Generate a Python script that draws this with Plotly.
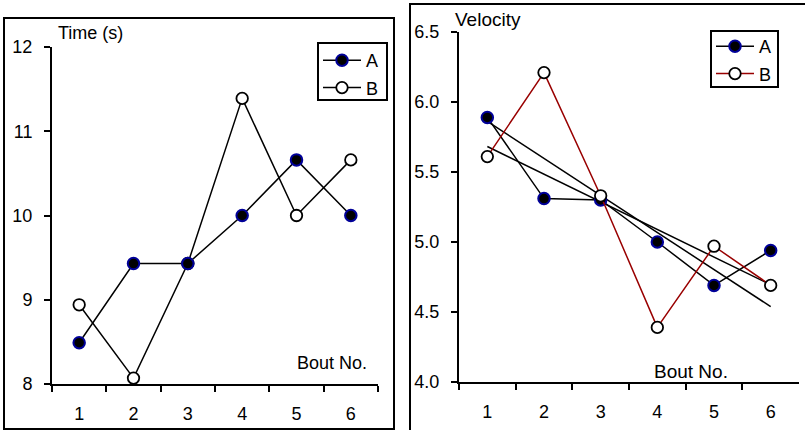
import numpy as np
import plotly.graph_objects as go

bouts = ["1", "2", "3", "4", "5", "6"]

time_A = [8.49, 9.43, 9.43, 10.0, 10.66, 10.0]
time_B = [8.94, 8.07, 9.43, 11.39, 10.0, 10.66]

vel_A = [5.89, 5.31, 5.30, 5.00, 4.69, 4.94]
vel_B = [5.61, 6.21, 5.33, 4.39, 4.97, 4.69]

time_ticks = [8, 9, 10, 11, 12]
vel_ticks = [4.0, 4.5, 5.0, 5.5, 6.0, 6.5]

W, H = 805, 430
FONT = "Liberation Sans, Arial, sans-serif"
NAVY = "#000099"
RED = "#990000"


def px(x):
    return x / W


def py(y):
    return 1 - y / H


def marker_A():
    return dict(symbol="circle", size=11.5, color="black", line=dict(color=NAVY, width=2))


def marker_B():
    return dict(symbol="circle", size=11.5, color="white", line=dict(color="black", width=1.8))


fig = go.Figure()

# ---- left panel (Time) : B drawn first so A sits on top
fig.add_trace(go.Scatter(x=bouts, y=time_B, name="B", mode="lines+markers",
                         line=dict(color="black", width=1.5), marker=marker_B(),
                         xaxis="x", yaxis="y", legend="legend", legendrank=2,
                         legendgroup="lb"))
fig.add_trace(go.Scatter(x=bouts, y=time_A, name="A", mode="lines+markers",
                         line=dict(color="black", width=1.5), marker=marker_A(),
                         xaxis="x", yaxis="y", legend="legend", legendrank=1,
                         legendgroup="la"))

# ---- right panel (Velocity)
xnum = np.arange(1, 7)
for vals in (vel_A, vel_B):
    k, b = np.polyfit(xnum, vals, 1)
    fig.add_trace(go.Scatter(x=[bouts[0], bouts[-1]], y=[k * 1 + b, k * 6 + b],
                             mode="lines", line=dict(color="black", width=1.5),
                             showlegend=False, hoverinfo="skip",
                             xaxis="x2", yaxis="y2"))
fig.add_trace(go.Scatter(x=bouts, y=vel_A, name="A", mode="lines+markers",
                         line=dict(color="black", width=1.5), marker=marker_A(),
                         xaxis="x2", yaxis="y2", legend="legend2", legendrank=1,
                         legendgroup="ra"))
fig.add_trace(go.Scatter(x=bouts, y=vel_B, name="B", mode="lines+markers",
                         line=dict(color=RED, width=1.5), marker=marker_B(),
                         xaxis="x2", yaxis="y2", legend="legend2", legendrank=2,
                         legendgroup="rb"))

common_x = dict(type="category", categoryorder="array", categoryarray=bouts,
                range=[-0.5, 5.5], showline=True, linecolor="black", linewidth=2,
                ticks="outside", tickson="boundaries", ticklen=6, tickwidth=1.5,
                tickcolor="black", showgrid=False, zeroline=False, automargin=False,
                tickfont=dict(family=FONT, size=18, color="black"), ticklabelstandoff=12)
common_y = dict(showline=True, linecolor="black", linewidth=2, ticks="outside",
                ticklen=6, tickwidth=1.5, tickcolor="black", showgrid=False,
                zeroline=False, automargin=False, ticklabelstandoff=8,
                tickfont=dict(family=FONT, size=18, color="black"))

legend_common = dict(xanchor="left", yanchor="top", borderwidth=0,
                     bgcolor="rgba(0,0,0,0)", itemwidth=38,
                     font=dict(family=FONT, size=18, color="black"),
                     tracegroupgap=1, traceorder="grouped")

fig.update_layout(
    template="none",
    width=W, height=H, margin=dict(l=0, r=0, t=0, b=0, pad=0, autoexpand=False),
    paper_bgcolor="white", plot_bgcolor="white",
    font=dict(family=FONT, color="black"),
    xaxis=dict(common_x, domain=[px(52), px(378)], anchor="y"),
    yaxis=dict(common_y, domain=[py(384), py(47)], range=[8, 12],
               tickvals=time_ticks, ticktext=[str(t) for t in time_ticks], anchor="x"),
    xaxis2=dict(common_x, domain=[px(459), px(799)], anchor="y2"),
    yaxis2=dict(common_y, domain=[py(382), py(32)], range=[4.0, 6.5],
                tickvals=vel_ticks, ticktext=[f"{t:.1f}" for t in vel_ticks], anchor="x2"),
    legend=dict(legend_common, x=px(318), y=py(42)),
    legend2=dict(legend_common, x=px(711), y=py(28)),
    showlegend=True,
    shapes=[
        dict(type="rect", xref="paper", yref="paper", x0=px(4), x1=px(394),
             y0=py(429), y1=py(18), line=dict(color="black", width=2)),
        dict(type="rect", xref="paper", yref="paper", x0=px(410), x1=px(815),
             y0=py(440), y1=py(4), line=dict(color="black", width=2)),
        # legend frames
        dict(type="rect", xref="paper", yref="paper", x0=px(318), x1=px(387),
             y0=py(100), y1=py(43), line=dict(color="black", width=2)),
        dict(type="rect", xref="paper", yref="paper", x0=px(711), x1=px(778),
             y0=py(87), y1=py(31), line=dict(color="black", width=2)),
    ],
    annotations=[
        dict(text="Time (s)", xref="paper", yref="paper", x=px(56), y=py(33),
             xanchor="left", yanchor="middle", showarrow=False,
             font=dict(family=FONT, size=18, color="black")),
        dict(text="Bout No.", xref="paper", yref="paper", x=px(369), y=py(363),
             xanchor="right", yanchor="middle", showarrow=False,
             font=dict(family=FONT, size=18, color="black")),
        dict(text="Velocity", xref="paper", yref="paper", x=px(453), y=py(20),
             xanchor="left", yanchor="middle", showarrow=False,
             font=dict(family=FONT, size=19, color="black")),
        dict(text="Bout No.", xref="paper", yref="paper", x=px(730), y=py(371),
             xanchor="right", yanchor="middle", showarrow=False,
             font=dict(family=FONT, size=19, color="black")),
    ],
)

fig.write_html("out.html",
               config={"displayModeBar": False},
               post_script="document.body.style.margin='0';document.body.style.padding='0';")
